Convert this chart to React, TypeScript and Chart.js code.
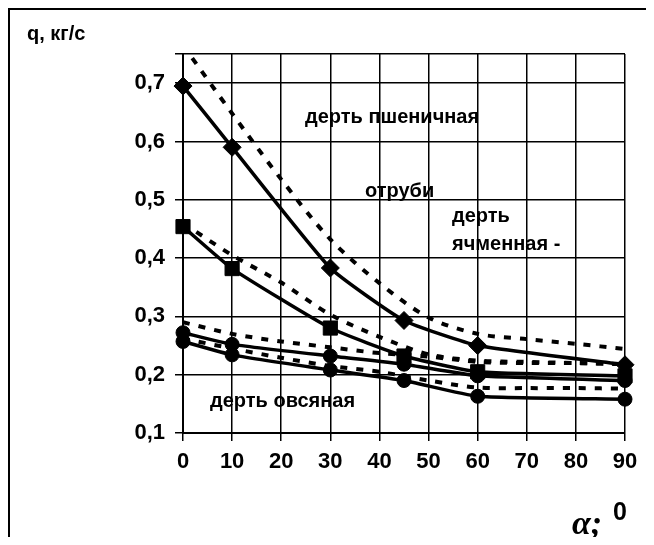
import React, { useEffect, useRef } from 'react';
import { Chart, registerables } from 'chart.js';

Chart.register(...registerables);

// ---- data ----
const angleTicks = [0, 10, 20, 30, 40, 50, 60, 70, 80, 90];
const qTicks = [0.1, 0.2, 0.3, 0.4, 0.5, 0.6, 0.7];
const qMin = 0.1;
const qMax = 0.75;

// measured (solid lines with markers)
const measuredAngles = [0, 10, 30, 45, 60, 90];
const wheatMeasured = [0.695, 0.59, 0.383, 0.293, 0.25, 0.217];
const branMeasured = [0.454, 0.382, 0.28, 0.232, 0.205, 0.198];
const barleyMeasured = [0.272, 0.252, 0.232, 0.218, 0.198, 0.19];
const oatMeasured = [0.257, 0.234, 0.208, 0.19, 0.163, 0.158];

// calculated (dashed lines)
const calcAngles = [0, 10, 20, 30, 40, 50, 60, 70, 80, 90];
const wheatCalc = [0.765, 0.648, 0.535, 0.432, 0.357, 0.298, 0.27, 0.261, 0.253, 0.244];
const branCalc = [0.46, 0.405, 0.358, 0.303, 0.265, 0.235, 0.224, 0.222, 0.22, 0.218];
const barleyCalc = [0.29, 0.27, 0.257, 0.247, 0.237, 0.231, 0.222, 0.22, 0.22, 0.218];
const oatCalc = [0.262, 0.245, 0.229, 0.215, 0.205, 0.19, 0.178, 0.177, 0.177, 0.176];

// texts
const yTitle = 'q, кг/с';
const xTitle = 'α;';
const xTitleSup = '0';
const labelWheat = 'дерть пшеничная';
const labelBran = 'отруби';
const labelBarley1 = 'дерть';
const labelBarley2 = 'ячменная -';
const labelOat = 'дерть овсяная';

const FONT = '"Liberation Sans", Arial, sans-serif';

const toPts = (xs: number[], ys: number[]) => xs.map((x, i) => ({ x, y: ys[i] }));

const annotations = {
  id: 'annotations',
  afterDraw(chart: any) {
    const ctx = chart.ctx as CanvasRenderingContext2D;
    ctx.save();
    ctx.fillStyle = '#000';
    ctx.textBaseline = 'alphabetic';
    ctx.textAlign = 'left';
    ctx.font = `bold 20px ${FONT}`;
    ctx.fillText(labelWheat, 295, 113);
    ctx.fillText(labelBran, 355, 187);
    ctx.fillText(labelBarley1, 442, 212);
    ctx.fillText(labelBarley2, 442, 240);
    ctx.fillText(labelOat, 200, 397);
    ctx.font = `bold 20px ${FONT}`;
    ctx.fillText(yTitle, 17, 30);
    ctx.font = `italic bold 34px "Liberation Serif", "Times New Roman", serif`;
    ctx.fillText(xTitle, 562, 524);
    ctx.font = `bold 25px ${FONT}`;
    ctx.fillText(xTitleSup, 603, 510);
    ctx.restore();
  },
};

export default function App() {
  const ref = useRef<HTMLCanvasElement>(null);
  useEffect(() => {
    if (!ref.current) return;
    const solid = (data: number[], style: any, radius: number) => ({
      data: toPts(measuredAngles, data),
      borderColor: '#000',
      backgroundColor: '#000',
      borderWidth: 3.5,
      pointStyle: style,
      pointRadius: radius,
      pointBorderWidth: 1,
      pointBackgroundColor: '#000',
      pointBorderColor: '#000',
      tension: 0.15,
      clip: false,
      order: 1,
    });
    const dashed = (data: number[]) => ({
      data: toPts(calcAngles, data),
      borderColor: '#000',
      borderWidth: 4,
      borderDash: [7, 9],
      pointRadius: 0,
      tension: 0.3,
      order: 2,
    });
    const chart = new Chart(ref.current, {
      type: 'line',
      data: {
        datasets: [
          solid(wheatMeasured, 'rectRot', 9),
          solid(branMeasured, 'rect', 10),
          solid(barleyMeasured, 'circle', 7),
          solid(oatMeasured, 'circle', 7),
          dashed(wheatCalc),
          dashed(branCalc),
          dashed(barleyCalc),
          dashed(oatCalc),
        ] as any,
      },
      options: {
        responsive: false,
        animation: false,
        events: [],
        layout: { padding: { left: 0, top: 44, right: 21, bottom: 44 } },
        plugins: { legend: { display: false }, tooltip: { enabled: false }, title: { display: false } },
        scales: {
          x: {
            type: 'linear',
            min: 0,
            max: 90,
            afterBuildTicks: (s: any) => {
              s.ticks = angleTicks.map((v) => ({ value: v }));
            },
            afterFit: (s: any) => {
              s.height = 60;
            },
            ticks: {
              color: '#000',
              font: { family: FONT, size: 22, weight: 'bold' },
              padding: 8,
              maxRotation: 0,
              autoSkip: false,
              callback: (v: any) => String(v),
            },
            grid: { color: '#000', lineWidth: 1.5, tickLength: 8, tickColor: '#000' },
            border: { color: '#000', width: 2 },
          },
          y: {
            type: 'linear',
            min: qMin,
            max: qMax,
            afterBuildTicks: (s: any) => {
              s.ticks = [...qTicks, qMax].map((v) => ({ value: v }));
            },
            afterFit: (s: any) => {
              s.width = 173;
            },
            ticks: {
              color: '#000',
              font: { family: FONT, size: 22, weight: 'bold' },
              padding: 10,
              autoSkip: false,
              callback: (v: any) => {
                const n = Number(v);
                if (Math.abs(n * 10 - Math.round(n * 10)) > 1e-6) return '';
                return n.toFixed(1).replace('.', ',');
              },
            },
            grid: { color: '#000', lineWidth: 1.5, tickLength: 8, tickColor: '#000' },
            border: { color: '#000', width: 2 },
          },
        },
      },
      plugins: [annotations],
    });
    return () => chart.destroy();
  }, []);
  return (
    <div
      style={{
        position: 'relative',
        width: 640,
        height: 529,
        border: '2px solid #000',
        borderBottom: 'none',
        boxSizing: 'border-box',
        background: '#fff',
      }}
    >
      <canvas ref={ref} width={636} height={527} style={{ position: 'absolute', left: 0, top: 0 }} />
    </div>
  );
}
